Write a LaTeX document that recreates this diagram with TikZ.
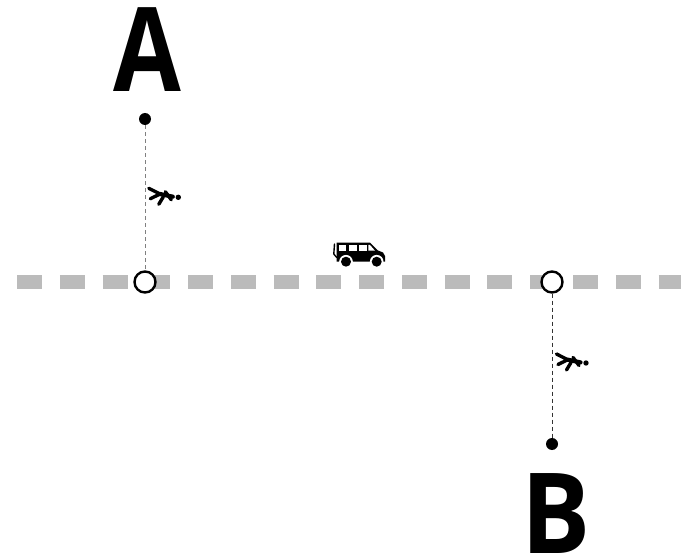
\documentclass[tikz,border=0pt]{standalone}
\usepackage{fontspec}
\newfontfamily\labelfont{Open Sans}
\definecolor{roadgray}{HTML}{BBBBBB}
\definecolor{conngray}{HTML}{808080}
\definecolor{conndark}{HTML}{333333}
\begin{document}
\begin{tikzpicture}[x=1pt,y=-1pt,
  road/.style={line width=14pt, draw=roadgray, dash pattern=on 25pt off 17.77pt},
  stop/.style={circle, draw=black, line width=2.4pt, fill=white, minimum size=21pt, inner sep=0pt},
  enddot/.style={circle, fill=black, minimum size=12pt, inner sep=0pt},
  conn/.style={draw=conngray, line width=0.9pt, dash pattern=on 4pt off 3pt},
  bigletter/.style={inner sep=0pt, anchor=base, text depth=0pt},
  limb/.style={line width=3.4pt, line cap=round, line join=round}
]
\useasboundingbox (0,0) rectangle (681,559);
% road
\coordinate (roadstart) at (17,282);
\coordinate (roadend) at (681,282);
\draw[road] (roadstart) -- (roadend);
% nodes
\node[bigletter, font=\labelfont\bfseries\fontsize{117pt}{117pt}\selectfont] (lettera) at (147,92) {\scalebox{0.84}[1]{A}};
\node[bigletter, font=\labelfont\bfseries\fontsize{112pt}{112pt}\selectfont] (letterb) at (556,553) {\scalebox{0.92}[1]{B}};
\node[enddot] (dota) at (145,119) {};
\node[enddot] (dotb) at (552,444) {};
\node[stop] (stopa) at (145,282) {};
\node[stop] (stopb) at (552,282) {};
% connectors
\draw[conn] (dota) -- (stopa);
\draw[conn, draw=conndark] (stopb) -- (dotb);
% walkers
\foreach \hx/\hy in {178.3/197.3, 586/363} {
  \begin{scope}[shift={(\hx,\hy)}]
    \draw[limb] (-29.5,-9) -- (-18.3,-3.3) -- (-28,1.5);
    \draw[limb, line width=4.2pt] (-18.3,-3.3) -- (-5.5,-0.6);
    \draw[limb] (-15,-0.5) -- (-19.5,7);
    \draw[limb] (-13,-5.6) -- (-7,2.5);
    \fill (0,0) circle (2.7);
  \end{scope}
}
% van
\begin{scope}
  \fill (336.7,242.7) -- (370,242.7) -- (378,250.5) -- (383,252.5) -- (385,256) -- (385,261.7) -- (336.7,261.7) -- cycle;
  \draw[line width=1.4pt, line cap=round] (334.5,244) -- (333.8,254) -- (336.7,257.5);
  \fill[white] (339,245) rectangle (346,250.7);
  \fill[white] (349.3,245) rectangle (356.7,250.7);
  \fill[white] (359.3,245) rectangle (366.7,250.7);
  \fill[white] (368.3,245) -- (370,245) -- (375,250.7) -- (368.3,250.7) -- cycle;
  \fill[white] (346,261.7) circle (6.8);
  \fill[white] (376.7,261.7) circle (6.8);
  \fill (346,261.7) circle (5);
  \fill (376.7,261.7) circle (5);
\end{scope}
\end{tikzpicture}
\end{document}
